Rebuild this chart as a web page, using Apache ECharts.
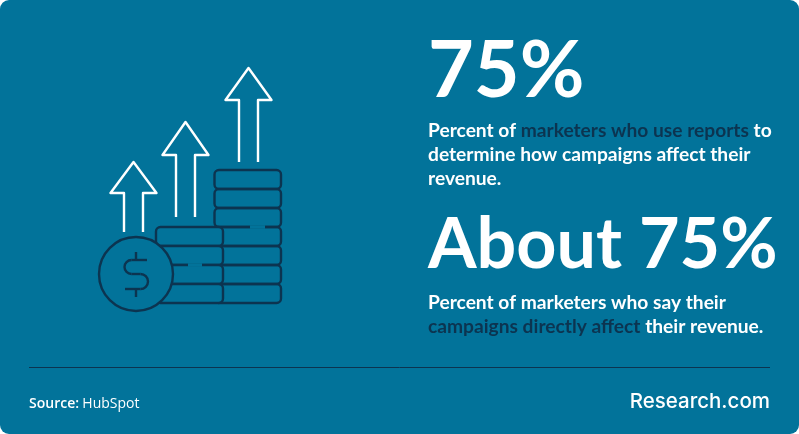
<!DOCTYPE html>
<html>
<head>
<meta charset="utf-8">
<style>html,body{margin:0;padding:0;background:#fff}#c{width:799px;height:434px}</style>
<script src="https://cdn.jsdelivr.net/npm/echarts@6/dist/echarts.min.js"></script>
</head>
<body>
<div id="c"></div>
<script>
var headlines = ['75%', 'About 75%'];
var captionOne = [
  [['Percent of ', 'w'], ['marketers who use reports', 'd'], [' to', 'w']],
  [['determine how campaigns affect their', 'w']],
  [['revenue.', 'w']]
];
var captionTwo = [
  [['Percent of marketers who say their', 'w']],
  [['campaigns directly affect', 'd'], [' their revenue.', 'w']]
];
var sourceLabel = 'Source:';
var sourceName = 'HubSpot';
var brand = 'Research.com';

var BG = '#02739a', NAVY = '#0c3450', WHITE = '#ffffff';
var BODY = 'Lato';

function richLine(segs, x, y) {
  return {
    type: 'text', x: x, y: y, silent: true,
    style: {
      text: segs.map(function (s) { return '{' + s[1] + '|' + s[0] + '}'; }).join(''),
      verticalAlign: 'middle', align: 'left',
      rich: {
        w: { fontFamily: BODY, fontWeight: 700, fontSize: 19.2, fill: WHITE },
        d: { fontFamily: BODY, fontWeight: 700, fontSize: 19.2, fill: NAVY }
      }
    }
  };
}
function arrow(tipX, tipY, halfW, baseY, shaftL, shaftR, bottom) {
  return {
    type: 'polyline', silent: true,
    shape: { points: [[shaftL, bottom], [shaftL, baseY], [tipX - halfW, baseY], [tipX, tipY], [tipX + halfW, baseY], [shaftR, baseY], [shaftR, bottom]] },
    style: { fill: null, stroke: WHITE, lineWidth: 2.4, lineJoin: 'round' }
  };
}
var ICON_LW = 2.4;
function coin(x, y, w, h) {
  return { type: 'rect', silent: true, shape: { x: x, y: y, width: w, height: h, r: 4.5 }, style: { fill: null, stroke: NAVY, lineWidth: ICON_LW } };
}
function hline(x1, x2, y, col, lw) {
  return { type: 'line', silent: true, shape: { x1: x1, y1: y, x2: x2, y2: y }, style: { stroke: col, lineWidth: lw } };
}
function vline(x, y1, y2, col, lw) {
  return { type: 'line', silent: true, shape: { x1: x, y1: y1, x2: x, y2: y2 }, style: { stroke: col, lineWidth: lw } };
}
function arc(cx, cy, r, a0, a1, cw) {
  return { type: 'arc', silent: true, shape: { cx: cx, cy: cy, r: r, startAngle: a0, endAngle: a1, clockwise: cw }, style: { fill: null, stroke: NAVY, lineWidth: ICON_LW } };
}

var els = [];
els.push({ type: 'rect', silent: true, shape: { x: 0, y: 0, width: 799, height: 434, r: 9 }, style: { fill: BG } });

var rowY = [170, 189, 208, 227, 246, 265, 284];
rowY.forEach(function (y) { els.push(coin(214.5, y, 66.5, 19)); });
els.push(hline(250, 265, 227, BG, 3.5));
[227, 246, 265, 284].forEach(function (y) { els.push({ type: 'rect', silent: true, shape: { x: 156, y: y, width: 67, height: 19, r: 4.5 }, style: { fill: BG, stroke: NAVY, lineWidth: ICON_LW } }); });
els.push(hline(188, 202, 265, BG, 3.5));
els.push({ type: 'circle', silent: true, shape: { cx: 136, cy: 274, r: 37 }, style: { fill: BG, stroke: NAVY, lineWidth: ICON_LW } });

els.push(hline(131.5, 147, 260, NAVY, ICON_LW));
els.push(arc(131.5, 267, 7, -Math.PI / 2, Math.PI / 2, false));
els.push(hline(131.5, 140.5, 274, NAVY, ICON_LW));
els.push(arc(140.5, 281.5, 7.5, -Math.PI / 2, Math.PI / 2, true));
els.push(hline(125, 140.5, 289, NAVY, ICON_LW));
els.push(vline(136, 252, 260, NAVY, ICON_LW));
els.push(vline(136, 289, 297, NAVY, ICON_LW));

els.push(arrow(133.5, 162, 23, 193, 124, 143, 232));
els.push(arrow(185.5, 122, 23, 155, 176, 195, 217));
els.push(arrow(248.5, 68, 23, 100, 239, 258, 162));

function headline(t, y, size) {
  return { type: 'text', silent: true, x: 428, y: y, style: { text: t, fontFamily: BODY, fontWeight: 700, fontSize: size, fill: WHITE, verticalAlign: 'middle', align: 'left' } };
}
els.push(headline(headlines[0], 72, 79));
captionOne.forEach(function (l, i) { els.push(richLine(l, 428, 131 + i * 24)); });
els.push(headline(headlines[1], 245, 70));
captionTwo.forEach(function (l, i) { els.push(richLine(l, 428, 303 + i * 24)); });

els.push(hline(29, 770, 367.5, NAVY, 1));
els.push({ type: 'text', silent: true, x: 29, y: 404, style: {
  text: '{b|' + sourceLabel + '} {r|' + sourceName + '}', verticalAlign: 'middle', align: 'left',
  rich: { b: { fontFamily: 'Open Sans', fontWeight: 600, fontSize: 14, fill: WHITE }, r: { fontFamily: 'Open Sans', fontSize: 14, fill: WHITE } }
} });
els.push({ type: 'text', silent: true, x: 770, y: 402, style: { text: brand, fontFamily: 'Inter', fontWeight: 500, fontSize: 20.5, fill: WHITE, verticalAlign: 'middle', align: 'right' } });

var chart = echarts.init(document.getElementById('c'), null, { renderer: 'canvas' });
chart.setOption({ animation: false, graphic: { elements: els } });
</script>
</body>
</html>
